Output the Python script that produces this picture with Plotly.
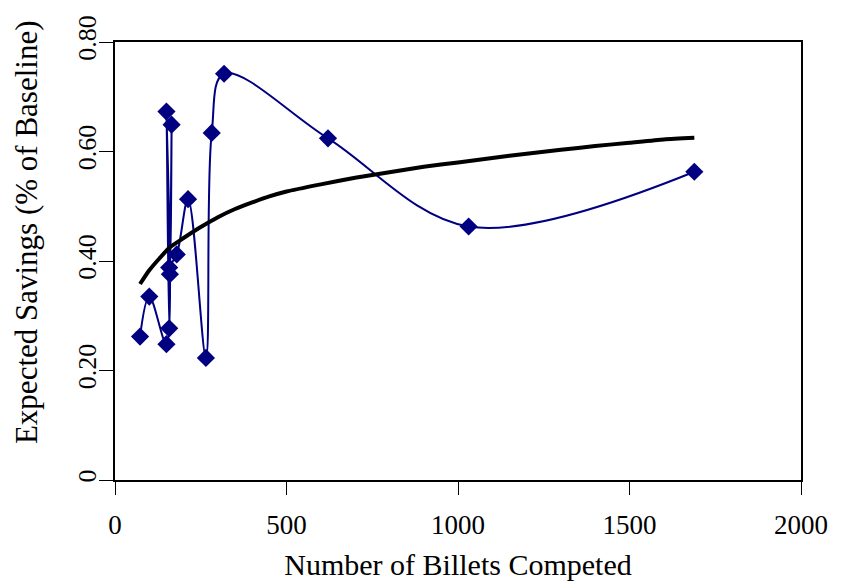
import plotly.graph_objects as go

# Observed expected savings per competition (blue diamonds, smoothed line)
billets_obs = [73, 100, 150, 150, 158, 165, 160, 158, 180, 213, 265, 282, 318, 621, 1031, 1689]
savings_obs = [0.262, 0.335, 0.248, 0.673, 0.277, 0.649, 0.376, 0.388, 0.412, 0.513,
               0.223, 0.634, 0.742, 0.624, 0.463, 0.563]

# Trend of expected savings versus number of billets (thick black curve)
billets_trend = [73, 100, 130, 160, 200, 250, 300, 350, 400, 450, 500, 600, 700, 800,
                 900, 1000, 1100, 1200, 1300, 1400, 1500, 1600, 1689]
savings_trend = [0.358, 0.383, 0.405, 0.425, 0.442, 0.462, 0.480, 0.495, 0.507, 0.518,
                 0.527, 0.540, 0.552, 0.562, 0.572, 0.580, 0.588, 0.596, 0.603, 0.610,
                 0.616, 0.622, 0.625]

x_ticks = [0, 500, 1000, 1500, 2000]
y_ticks = [0, 0.2, 0.4, 0.6, 0.8]
y_tick_text = ["0", "0.20", "0.40", "0.60", "0.80"]

FONT = "Liberation Serif, Times New Roman, serif"
NAVY = "#000080"

fig = go.Figure()
fig.add_trace(go.Scatter(
    x=billets_obs, y=savings_obs, mode="lines+markers",
    line=dict(color=NAVY, width=2, shape="spline", smoothing=1.0),
    marker=dict(symbol="diamond", size=14, color=NAVY),
    showlegend=False,
))
fig.add_trace(go.Scatter(
    x=billets_trend, y=savings_trend, mode="lines",
    line=dict(color="black", width=4, shape="spline", smoothing=0.6),
    showlegend=False,
))

fig.update_layout(
    width=848, height=581,
    margin=dict(l=115, r=47, t=42, b=101),
    paper_bgcolor="white", plot_bgcolor="white",
    font=dict(family=FONT, size=21, color="black"),
)
fig.update_xaxes(
    range=[0, 2000], tickvals=x_ticks, ticktext=[str(v) for v in x_ticks],
    showgrid=False, zeroline=False, automargin=False,
    showline=True, linecolor="black", linewidth=2, mirror=True,
    ticks="outside", ticklen=13, tickwidth=1, tickcolor="black",
    tickfont=dict(family=FONT, size=27), ticklabelstandoff=7,
    title=dict(text="Number of Billets Competed", font=dict(family=FONT, size=30), standoff=16),
)
fig.update_yaxes(
    range=[0, 0.8], tickvals=y_ticks, ticktext=y_tick_text, tickangle=-90,
    showgrid=False, zeroline=False, automargin=False,
    showline=True, linecolor="black", linewidth=2, mirror=True,
    ticks="outside", ticklen=14, tickwidth=1, tickcolor="black",
    tickfont=dict(family=FONT, size=26), ticklabelstandoff=-7,
)

# Vertical axis title
fig.add_annotation(
    text="Expected Savings (% of Baseline)", textangle=-90,
    xref="paper", yref="paper", x=(26 - 115) / 686.5, y=(480 - 232) / 438,
    xanchor="center", yanchor="middle", showarrow=False,
    font=dict(family=FONT, size=31, color="black"),
)

fig.write_html("out.html")
